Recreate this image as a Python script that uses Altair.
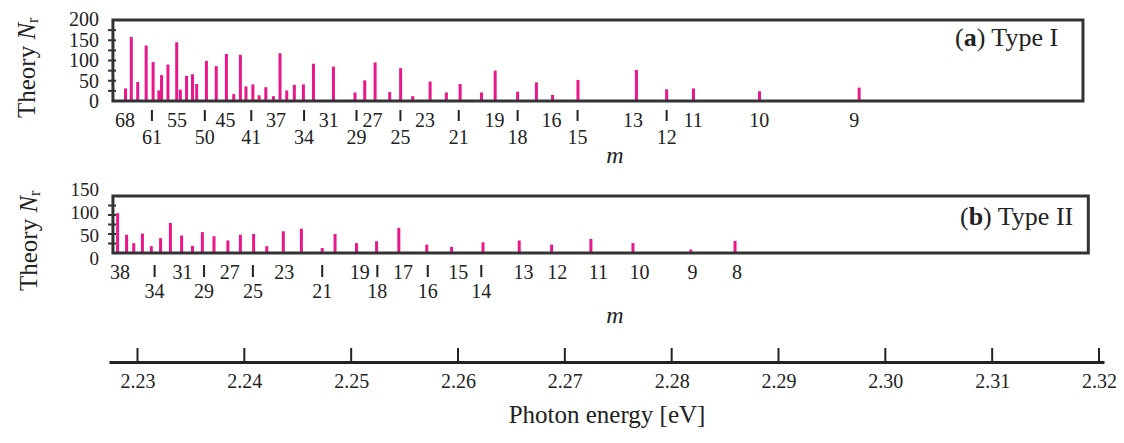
import altair as alt
import pandas as pd

FONT = "Liberation Serif"
PINK = "#E8178A"
INK = "#222222"
FRAME = "#333333"

# ---------------- data ----------------
# (a) Type I : photon energy [eV] of each line and theory N_r
a_energy = [2.22888, 2.22942, 2.23002, 2.23081, 2.23146, 2.23200, 2.23225, 2.23285, 2.23367, 2.23401,
            2.23459, 2.23515, 2.23554, 2.23645, 2.23737, 2.23832, 2.23901, 2.23963, 2.24015, 2.24080,
            2.24138, 2.24201, 2.24272, 2.24334, 2.24397, 2.24468, 2.24553, 2.24647, 2.24834, 2.25036,
            2.25127, 2.25224, 2.25361, 2.25463, 2.25576, 2.25739, 2.25891, 2.26020, 2.26220, 2.26348,
            2.26558, 2.26734, 2.26885, 2.27123, 2.27670, 2.27953, 2.28204, 2.28822, 2.29755]
a_nr = [31, 158, 47, 137, 96, 26, 64, 90, 145, 28,
        62, 66, 42, 99, 86, 116, 17, 114, 36, 41,
        14, 34, 12, 118, 26, 40, 41, 92, 85, 21,
        51, 95, 22, 81, 12, 48, 21, 42, 21, 75,
        23, 46, 15, 52, 77, 29, 31, 24, 33]
a_label_text = ["68", "61", "55", "50", "45", "41", "37", "34", "31", "29", "27", "25",
                "23", "21", "19", "18", "16", "15", "13", "12", "11", "10", "9"]
a_label_energy = [2.22882, 2.23135, 2.23370, 2.23630, 2.23824, 2.24065, 2.24297, 2.24559,
                  2.24791, 2.25050, 2.25199, 2.25461, 2.25692, 2.26007, 2.26341, 2.26558,
                  2.26876, 2.27119, 2.27638, 2.27953, 2.28201, 2.28819, 2.29708]
a_label_row = [0, 1, 0, 1, 0, 1, 0, 1, 0, 1, 0, 1, 0, 1, 0, 1, 0, 1, 0, 1, 0, 0, 0]
a_yticks = [0, 50, 100, 150, 200]
a_minor = [25, 50, 75, 100, 125, 150, 175]
a_frame_energy = [2.2277, 2.3185]
a_ydomain = [0, 200]

# (b) Type II
b_energy = [2.22814, 2.22898, 2.22965, 2.23046, 2.23129, 2.23216, 2.23308, 2.23413, 2.23515, 2.23607,
            2.23716, 2.23846, 2.23963, 2.24087, 2.24210, 2.24365, 2.24534, 2.24729, 2.24849, 2.25050,
            2.25238, 2.25446, 2.25708, 2.25940, 2.26234, 2.26573, 2.26876, 2.27244, 2.27638, 2.28179,
            2.28593]
b_nr = [105, 48, 26, 51, 18, 39, 79, 46, 19, 55,
        44, 33, 48, 50, 18, 57, 64, 13, 50, 26,
        31, 66, 22, 16, 28, 33, 22, 37, 26, 9, 32]
b_label_text = ["38", "34", "31", "29", "27", "25", "23", "21", "19", "18",
                "17", "16", "15", "14", "13", "12", "11", "10", "9", "8"]
b_label_energy = [2.22836, 2.23160, 2.23422, 2.23623, 2.23864, 2.24080, 2.24374, 2.24729,
                  2.25081, 2.25245, 2.25486, 2.25717, 2.26002, 2.26218, 2.26613, 2.26929,
                  2.27314, 2.27700, 2.28194, 2.28611]
b_label_row = [0, 1, 0, 1, 0, 1, 0, 1, 0, 1, 0, 1, 0, 1, 0, 0, 0, 0, 0, 0]
b_yticks = [0, 50, 100, 150]
b_minor = [25, 50, 75, 100, 125]
b_frame_energy = [2.2277, 2.3190]
b_ydomain = [0, 150]

energy_ticks = [2.23, 2.24, 2.25, 2.26, 2.27, 2.28, 2.29, 2.30, 2.31, 2.32]
energy_domain = [2.2278, 2.32]

# ---------------- layout ----------------
W, H = 1108, 427
XSCALE = alt.Scale(domain=energy_domain, range=[101, 1096], nice=False, zero=False)
XAXIS = alt.Axis(values=energy_ticks, format=".2f", title="Photon energy [eV]", orient="bottom",
                 offset=-73, tickSize=0, domainColor=INK, domainWidth=3, grid=False,
                 labelFont=FONT, labelFontSize=20, labelColor=INK, labelPadding=9,
                 labelFlush=False, labelOverlap=False,
                 titleFont=FONT, titleFontSize=25, titleFontWeight="normal", titleColor=INK,
                 titlePadding=11)


def X(field="E"):
    return alt.X(f"{field}:Q", scale=XSCALE, axis=XAXIS)


ONE = pd.DataFrame({"k": [0]})


def note(txt, x, y, size, **kw):
    return alt.Chart(ONE).mark_text(text=txt, font=FONT, fontSize=size, color=INK, **kw).encode(
        x=alt.value(x), y=alt.value(y))


def panel(energy, nr, lab_text, lab_energy, lab_row, yticks, minor, frame_e, ydom,
          yrange, label_range, label_size, row_y, tick_y, tag, tag_x, tag_y, theory_y, theory_x, m_y):
    ys = alt.Scale(domain=ydom, range=yrange, nice=False, zero=False)
    ls = alt.Scale(domain=ydom, range=label_range, nice=False, zero=False)
    bars = pd.DataFrame({"E": energy, "Nr": nr})
    labs = pd.DataFrame({"E": lab_energy, "t": lab_text, "row": lab_row})
    layers = []
    layers.append(alt.Chart(bars).mark_bar(size=3, color=PINK).encode(
        x=X(), y=alt.Y("Nr:Q", scale=ys, axis=None), y2=alt.datum(0)))
    frame = pd.DataFrame({"E": [frame_e[0]], "E2": [frame_e[1]], "v": [ydom[0]], "v2": [ydom[1]]})
    layers.append(alt.Chart(frame).mark_rect(fillOpacity=0, stroke=FRAME, strokeWidth=3).encode(
        x=X(), x2="E2:Q", y=alt.Y("v:Q", scale=ys, axis=None), y2="v2:Q"))
    layers.append(alt.Chart(pd.DataFrame({"v": minor})).mark_rule(color=FRAME, strokeWidth=2).encode(
        x=alt.value(100), x2=alt.value(108), y=alt.Y("v:Q", scale=ys, axis=None)))
    layers.append(alt.Chart(pd.DataFrame({"v": yticks})).mark_text(
        align="right", baseline="middle", font=FONT, fontSize=label_size, color=INK).encode(
        x=alt.value(91), y=alt.Y("v:Q", scale=ls, axis=None), text="v:Q"))
    for r in (0, 1):
        layers.append(alt.Chart(labs).transform_filter(alt.datum.row == r).mark_text(
            align="center", baseline="middle", font=FONT, fontSize=20, color=INK).encode(
            x=X(), y=alt.value(row_y[r]), text="t:N"))
    layers.append(alt.Chart(labs).transform_filter(alt.datum.row == 1).mark_rule(
        color=INK, strokeWidth=2).encode(x=X(), y=alt.value(tick_y[0]), y2=alt.value(tick_y[1])))
    # panel tag "(a) Type I"
    fs = 26
    layers.append(note("(", tag_x, tag_y, fs, align="left", baseline="middle"))
    layers.append(note(tag[0], tag_x + 0.333 * fs, tag_y, fs, align="left", baseline="middle",
                       fontWeight="bold"))
    layers.append(note(tag[1], tag_x + 0.333 * fs + tag[2] * fs, tag_y, fs, align="left",
                       baseline="middle"))
    # y title "Theory N_r"
    ts = 25
    layers.append(note("Theory", theory_x, theory_y, ts, align="left", baseline="middle", angle=270))
    ny = theory_y - 3.138 * ts
    layers.append(note("N", theory_x, ny, ts, align="left", baseline="middle", angle=270,
                       fontStyle="italic"))
    layers.append(note("r", theory_x + 6, ny - 0.667 * ts, 16, align="left", baseline="middle",
                       angle=270))
    layers.append(note("m", 607, m_y, 24, align="center", baseline="middle", fontStyle="italic"))
    return layers


layers = []
layers += panel(a_energy, a_nr, a_label_text, a_label_energy, a_label_row, a_yticks, a_minor,
                a_frame_energy, a_ydomain, [93, 12], [94, 12], 20, [113, 130], [102, 113],
                ("a", ") Type I", 0.5), 947, 30, 110, 19, 148)
layers += panel(b_energy, b_nr, b_label_text, b_label_energy, b_label_row, b_yticks, b_minor,
                b_frame_energy, b_ydomain, [245, 188], [251, 182], 19, [265, 283.5], [257, 269],
                ("b", ") Type II", 0.556), 952, 209, 283, 21, 308)

# energy axis ticks (pointing up)
layers.append(alt.Chart(pd.DataFrame({"E": energy_ticks})).mark_rule(color=INK, strokeWidth=2).encode(
    x=X(), y=alt.value(340), y2=alt.value(354)))

chart = alt.layer(*layers).resolve_scale(y="independent").properties(
    width=W, height=H, padding=0, autosize=alt.AutoSizeParams(type="none")
).configure_view(stroke=None)

chart.save("out.html", embed_options={"renderer": "svg", "actions": False})
